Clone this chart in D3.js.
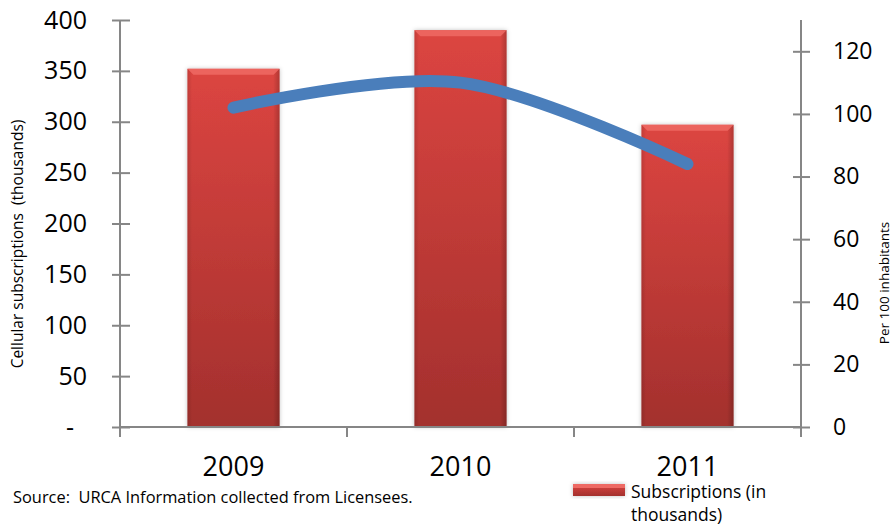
<!DOCTYPE html>
<html>
<head>
<meta charset="utf-8">
<script src="https://cdn.jsdelivr.net/npm/d3@7"></script>
<style>
	body { margin: 0; background: #fff; }
	svg { display: block; font-family: "Open Sans", sans-serif; }
</style>
</head>
<body>
<div id="chart-area"></div>
<script>

// data
let years = ["2009", "2010", "2011"];
let subscriptions = [352, 390, 297];      // thousands
let per100 = [102, 110, 84];              // per 100 inhabitants
let leftTicks = [0, 50, 100, 150, 200, 250, 300, 350, 400];
let rightTicks = [0, 20, 40, 60, 80, 100, 120];

let W = 894, H = 527;

let svg = d3.select("#chart-area").append("svg")
	.attr("width", W)
	.attr("height", H);

let defs = svg.append("defs");

// bar gradient (vertical)
let grad = defs.append("linearGradient")
	.attr("id", "barGrad")
	.attr("x1", 0).attr("y1", 0).attr("x2", 0).attr("y2", 1);
grad.append("stop").attr("offset", "0%").attr("stop-color", "#dc4541");
grad.append("stop").attr("offset", "100%").attr("stop-color", "#a3302d");

// side shading
let sideGrad = defs.append("linearGradient")
	.attr("id", "sideGrad")
	.attr("x1", 0).attr("y1", 0).attr("x2", 1).attr("y2", 0);
sideGrad.append("stop").attr("offset", "0%").attr("stop-color", "#000").attr("stop-opacity", 0.12);
sideGrad.append("stop").attr("offset", "5%").attr("stop-color", "#000").attr("stop-opacity", 0);
sideGrad.append("stop").attr("offset", "93%").attr("stop-color", "#000").attr("stop-opacity", 0);
sideGrad.append("stop").attr("offset", "100%").attr("stop-color", "#000").attr("stop-opacity", 0.2);

let shadow = defs.append("filter").attr("id", "shadow")
	.attr("x", "-20%").attr("y", "-20%").attr("width", "140%").attr("height", "140%");
shadow.append("feDropShadow")
	.attr("dx", 0).attr("dy", 0).attr("stdDeviation", 2)
	.attr("flood-color", "#000").attr("flood-opacity", 0.25);

/////////////////////////
// SCALES
/////////////////////////

let x = d3.scaleBand()
	.domain(years)
	.range([120, 801])
	.paddingInner(0.594)
	.paddingOuter(0.297);

let yL = d3.scaleLinear().domain([0, 400]).range([427, 20]);
let yR = d3.scaleLinear().domain([0, 130]).range([427, 20]);

let axisColor = "#868686";

/////////////////////////
// BARS
/////////////////////////

let bars = svg.append("g").selectAll("g.bar")
	.data(years)
	.enter().append("g")
	.attr("class", "bar");

bars.append("rect")
	.attr("x", d => x(d))
	.attr("y", (d, i) => yL(subscriptions[i]))
	.attr("width", x.bandwidth())
	.attr("height", (d, i) => yL(0) - yL(subscriptions[i]))
	.attr("fill", "url(#barGrad)")
	.attr("filter", "url(#shadow)");

bars.append("rect")
	.attr("x", d => x(d))
	.attr("y", (d, i) => yL(subscriptions[i]))
	.attr("width", x.bandwidth())
	.attr("height", (d, i) => yL(0) - yL(subscriptions[i]))
	.attr("fill", "url(#sideGrad)");

// top bevel
bars.append("path")
	.attr("d", (d, i) => {
		let x0 = x(d), x1 = x(d) + x.bandwidth(), y0 = yL(subscriptions[i]), b = 6;
		return "M" + x0 + "," + y0 + "L" + x1 + "," + y0 + "L" + (x1 - b) + "," + (y0 + b) +
			"L" + (x0 + b) + "," + (y0 + b) + "Z";
	})
	.attr("fill", "#ee6a64")
	.attr("opacity", 0.85);

/////////////////////////
// AXES
/////////////////////////

let leftAxis = d3.axisLeft(yL)
	.tickValues(leftTicks)
	.tickSize(8)
	.tickPadding(25)
	.tickFormat(d => d === 0 ? "-" : d);

let gL = svg.append("g")
	.attr("transform", "translate(120,0)")
	.call(leftAxis);
gL.select(".domain").remove();
gL.selectAll(".tick line").attr("x1", -8).attr("x2", 10).attr("stroke", axisColor).attr("stroke-width", 2);
gL.selectAll(".tick text")
	.attr("font-size", 25)
	.attr("font-family", "Open Sans, sans-serif")
	.attr("fill", "#000")
	.attr("dx", d => d === 0 ? -13 : 0);
gL.append("line")
	.attr("x1", 0).attr("x2", 0)
	.attr("y1", yL.range()[1]).attr("y2", yL(0) + 10)
	.attr("stroke", axisColor).attr("stroke-width", 2);

let rightAxis = d3.axisRight(yR)
	.tickValues(rightTicks)
	.tickSize(8)
	.tickPadding(24);

let gR = svg.append("g")
	.attr("transform", "translate(801,0)")
	.call(rightAxis);
gR.select(".domain").remove();
gR.selectAll(".tick line").attr("x1", -8).attr("x2", 9).attr("stroke", axisColor).attr("stroke-width", 2);
gR.selectAll(".tick text")
	.attr("font-size", 23)
	.attr("font-family", "Open Sans, sans-serif")
	.attr("fill", "#000");
gR.append("line")
	.attr("x1", 0).attr("x2", 0)
	.attr("y1", yR.range()[1]).attr("y2", yR(0) + 10)
	.attr("stroke", axisColor).attr("stroke-width", 2);

// category axis
let gX = svg.append("g");
gX.append("line")
	.attr("x1", x.range()[0]).attr("x2", x.range()[1])
	.attr("y1", yL(0)).attr("y2", yL(0))
	.attr("stroke", axisColor).attr("stroke-width", 2);
gX.selectAll("line.tick")
	.data(d3.range(years.length + 1))
	.enter().append("line")
	.attr("class", "tick")
	.attr("x1", i => x.range()[0] + i * x.step())
	.attr("x2", i => x.range()[0] + i * x.step())
	.attr("y1", yL(0)).attr("y2", yL(0) + 10)
	.attr("stroke", axisColor).attr("stroke-width", 2);
gX.selectAll("text")
	.data(years)
	.enter().append("text")
	.attr("x", d => x(d) + x.bandwidth() / 2)
	.attr("y", 476)
	.attr("text-anchor", "middle")
	.attr("font-size", 27)
	.text(d => d);

/////////////////////////
// LINE
/////////////////////////

let line = d3.line()
	.x((d, i) => x(years[i]) + x.bandwidth() / 2)
	.y(d => yR(d))
	.curve(d3.curveCardinal.tension(0));

svg.append("path")
	.datum(per100)
	.attr("d", line)
	.attr("fill", "none")
	.attr("stroke", "#4a7ebb")
	.attr("stroke-width", 12)
	.attr("stroke-linecap", "round");

/////////////////////////
// TITLES, SOURCE, LEGEND
/////////////////////////

svg.append("text")
	.attr("transform", "translate(23,244) rotate(-90)")
	.attr("text-anchor", "middle")
	.attr("font-size", 15.5)
	.attr("xml:space", "preserve")
	.text("Cellular subscriptions  (thousands)");

svg.append("text")
	.attr("transform", "translate(889,283) rotate(-90)")
	.attr("text-anchor", "middle")
	.attr("font-size", 13.5)
	.text("Per 100 inhabitants");

svg.append("text")
	.attr("x", 13)
	.attr("y", 503)
	.attr("font-size", 16.4)
	.attr("xml:space", "preserve")
	.text("Source:  URCA Information collected from Licensees.");

let legend = svg.append("g");
legend.append("rect")
	.attr("x", 573).attr("y", 484)
	.attr("width", 52).attr("height", 12)
	.attr("fill", "url(#barGrad)")
	.attr("filter", "url(#shadow)");
legend.append("rect")
	.attr("x", 573).attr("y", 484)
	.attr("width", 52).attr("height", 4)
	.attr("fill", "#ee6a64");
legend.append("text")
	.attr("x", 631).attr("y", 498)
	.attr("font-size", 17.5)
	.text("Subscriptions (in");
legend.append("text")
	.attr("x", 631).attr("y", 521)
	.attr("font-size", 17.5)
	.text("thousands)");

</script>
</body>
</html>
